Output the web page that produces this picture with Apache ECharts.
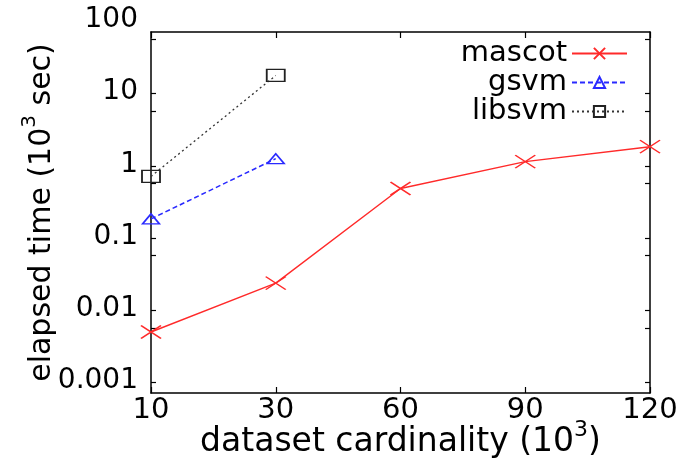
<!DOCTYPE html>
<html><head><meta charset="utf-8">
<script src="https://cdn.jsdelivr.net/npm/echarts@6/dist/echarts.min.js"></script>
<style>html,body{margin:0;padding:0;background:#fff}#c{width:682px;height:462px}</style>
</head><body><div id="c"></div>
<script>
const categories = ['10', '30', '60', '90', '120'];
const mascot = [0.0035, 0.0166, 0.34, 0.80, 1.29];
const gsvm = [0.129, 0.88, null, null, null];
const libsvm = [0.5, 12.5, null, null, null];
const yTickLabels = ['0.001', '0.01', '0.1', '1', '10', '100'];
const seriesNames = ['mascot', 'gsvm', 'libsvm'];

const FONT = 'DejaVu Sans';
const chart = echarts.init(document.getElementById('c'));
const axisLine = { show: true, lineStyle: { color: '#000', width: 1.5 } };
const tickStyle = { color: '#000', width: 1.2 };

chart.setOption({
  animation: false,
  backgroundColor: '#fff',
  grid: [
    { left: 151, right: 32, top: 32, bottom: 69, containLabel: false, outerBoundsMode: 'none' },
    { left: 151, right: 32, top: 20, bottom: 81, containLabel: false, outerBoundsMode: 'none' }
  ],
  legend: {
    data: seriesNames,
    orient: 'vertical', align: 'right',
    right: 54, top: 39, padding: 0,
    itemWidth: 55, itemHeight: 14, itemGap: 0,
    textStyle: { fontFamily: FONT, fontSize: 29, color: '#000', lineHeight: 28 }
  },
  xAxis: [
    {
      gridIndex: 0, type: 'category', data: categories, boundaryGap: false, position: 'bottom',
      axisLine: axisLine,
      axisTick: { inside: true, length: 6, lineStyle: tickStyle },
      axisLabel: { fontFamily: FONT, fontSize: 29, color: '#000', margin: 3 },
      splitLine: { show: false },
      name: '{a|dataset cardinality (10}{s|3}{a|)}',
      nameLocation: 'middle', nameGap: 26, nameMoveOverlap: false,
      nameTextStyle: {
        fontFamily: FONT, fontSize: 33, color: '#000',
        rich: {
          a: { fontFamily: FONT, fontSize: 33, color: '#000', padding: [7, 0, 0, 0] },
          s: { fontFamily: FONT, fontSize: 22, color: '#000', verticalAlign: 'top' }
        }
      }
    },
    {
      gridIndex: 0, type: 'category', data: categories, boundaryGap: false, position: 'top',
      axisLine: axisLine,
      axisTick: { inside: true, length: 6, lineStyle: tickStyle },
      axisLabel: { show: false }, splitLine: { show: false }
    },
    { gridIndex: 1, type: 'category', data: categories, boundaryGap: false, show: false }
  ],
  yAxis: [
    {
      gridIndex: 0, type: 'log', logBase: 10, min: 0.0005, max: 50, position: 'left',
      axisLine: axisLine,
      axisTick: { inside: true, length: 8, lineStyle: tickStyle },
      minorTick: { show: true, splitNumber: 3, length: 5, lineStyle: tickStyle },
      axisLabel: { show: false }, splitLine: { show: false }, minorSplitLine: { show: false },
      name: '{a|elapsed time (10}{s|3}{a| sec)}',
      nameLocation: 'middle', nameGap: 94, nameRotate: 90, nameMoveOverlap: false,
      nameTextStyle: {
        fontFamily: FONT, fontSize: 30, color: '#000',
        rich: {
          a: { fontFamily: FONT, fontSize: 30, color: '#000', padding: [7, 0, 0, 0] },
          s: { fontFamily: FONT, fontSize: 20, color: '#000', verticalAlign: 'top' }
        }
      }
    },
    {
      gridIndex: 0, type: 'log', logBase: 10, min: 0.0005, max: 50, position: 'right',
      axisLine: axisLine,
      axisTick: { inside: true, length: 8, lineStyle: tickStyle },
      minorTick: { show: true, splitNumber: 3, length: 5, lineStyle: tickStyle },
      axisLabel: { show: false }, splitLine: { show: false }
    },
    {
      gridIndex: 1, type: 'log', logBase: 10, min: 0.001, max: 100, position: 'left',
      axisLine: { show: false }, axisTick: { show: false }, splitLine: { show: false },
      axisLabel: {
        fontFamily: FONT, fontSize: 28, color: '#000', margin: 13,
        formatter: function (v) {
          const k = Math.round(Math.log10(v)) + 3;
          return yTickLabels[k] !== undefined ? yTickLabels[k] : '';
        }
      }
    }
  ],
  series: [
    {
      name: seriesNames[0], type: 'line', xAxisIndex: 0, yAxisIndex: 0, data: mascot,
      symbol: 'path://M0,0L10,10M10,0L0,10', symbolSize: [20, 13], symbolKeepAspect: false,
      itemStyle: { color: '#ff2a2a', borderColor: '#ff2a2a', borderWidth: 1.5 },
      lineStyle: { color: '#ff2a2a', width: 1.4, type: 'solid' }
    },
    {
      name: seriesNames[1], type: 'line', xAxisIndex: 0, yAxisIndex: 0, data: gsvm,
      symbol: 'triangle', symbolSize: [17, 10],
      itemStyle: { color: 'rgba(255,255,255,0)', borderColor: '#2a2aff', borderWidth: 1.5 },
      lineStyle: { color: '#2a2aff', width: 1.5, type: [5, 3] }
    },
    {
      name: seriesNames[2], type: 'line', xAxisIndex: 0, yAxisIndex: 0, data: libsvm,
      symbol: 'rect', symbolSize: [18, 12],
      itemStyle: { color: 'rgba(255,255,255,0)', borderColor: '#222', borderWidth: 1.5 },
      lineStyle: { color: '#333', width: 1.3, type: [2, 3] }
    }
  ]
});
</script></body></html>
